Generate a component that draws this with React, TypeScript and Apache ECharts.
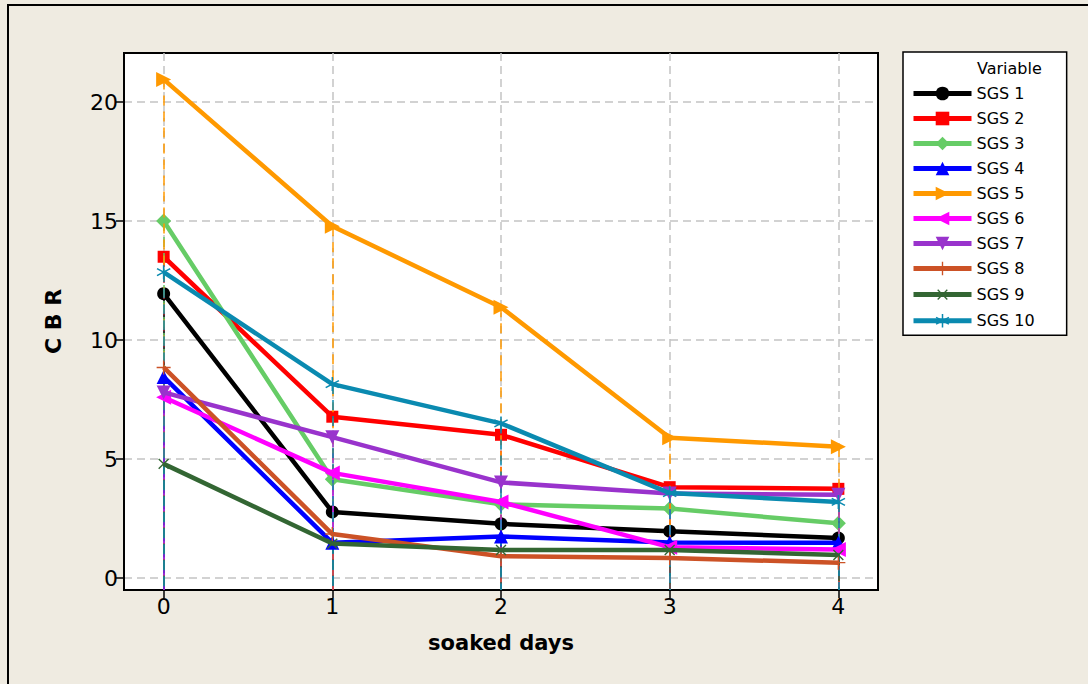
import React, { useEffect, useRef } from "react";
import * as echarts from "echarts";

const days = [0, 1, 2, 3, 4];
const xTicks = [0, 1, 2, 3, 4];
const yTicks = [0, 5, 10, 15, 20];
const seriesNames = ["SGS 1", "SGS 2", "SGS 3", "SGS 4", "SGS 5", "SGS 6", "SGS 7", "SGS 8", "SGS 9", "SGS 10"];
const sgs1 = [11.95, 2.78, 2.28, 1.97, 1.68];
const sgs2 = [13.5, 6.78, 6.02, 3.82, 3.75];
const sgs3 = [15.0, 4.15, 3.1, 2.92, 2.3];
const sgs4 = [8.45, 1.48, 1.75, 1.5, 1.48];
const sgs5 = [20.95, 14.78, 11.38, 5.9, 5.52];
const sgs6 = [7.6, 4.42, 3.2, 1.3, 1.2];
const sgs7 = [7.8, 5.92, 4.02, 3.55, 3.5];
const sgs8 = [8.85, 1.85, 0.92, 0.84, 0.65];
const sgs9 = [4.8, 1.45, 1.18, 1.18, 0.97];
const sgs10 = [12.85, 8.15, 6.5, 3.57, 3.2];
const allValues = [sgs1, sgs2, sgs3, sgs4, sgs5, sgs6, sgs7, sgs8, sgs9, sgs10];

const colors = ["#000000", "#FF0000", "#66CC66", "#0000FF", "#FF9900", "#FF00FF", "#9933CC", "#CC5226", "#336633", "#0A8AB0"];

const PLUS = "path://M-1,-10H1V-1H10V1H1V10H-1V1H-10V-1H-1Z";
const STAR = "path://M-1,-10H1V10H-1Z M-9.16,-4.13L-8.16,-5.87L9.16,4.13L8.16,5.87Z M-8.16,5.87L-9.16,4.13L8.16,-5.87L9.16,-4.13Z";
const symbols = ["circle", "rect", "diamond", "triangle", "triangle", "triangle", "triangle", PLUS, PLUS, STAR];
const rotations = [0, 0, 0, 0, -90, 90, 180, 0, 45, 0];
const sizes = [13, 12, 15, 14, 15, 15, 14, 14, 14, 14];

const Y_MIN = -0.5;
const Y_MAX = 22.06;
const X_MIN = -0.235;
const X_MAX = 4.235;
const FONT = "'DejaVu Sans', Verdana, sans-serif";

export default function App() {
  const ref = useRef<HTMLDivElement>(null);
  useEffect(() => {
    if (!ref.current) return;
    const chart = echarts.init(ref.current, null, { renderer: "svg" });
    const series = allValues.map((vals, si) => ({
      name: seriesNames[si],
      type: "line",
      data: vals.map((v, i) => [days[i], v]),
      symbol: symbols[si],
      symbolSize: sizes[si],
      symbolRotate: rotations[si],
      showAllSymbol: true,
      clip: false,
      lineStyle: { color: colors[si], width: 4.5 },
      itemStyle: { color: colors[si] },
      emphasis: { disabled: true },
      markLine: {
        silent: true,
        symbol: ["none", "none"],
        animation: false,
        label: { show: false },
        emphasis: { disabled: true },
        lineStyle: { color: colors[si], type: [10, 6], width: 1.5 },
        data: vals.map((v, i) => [{ coord: [days[i], v] }, { coord: [days[i], Y_MIN] }]),
      },
      z: 2 + si,
    }));
    chart.setOption({
      animation: false,
      backgroundColor: "#EFEBE1",
      textStyle: { fontFamily: FONT },
      grid: {
        left: 124,
        top: 53,
        width: 754,
        height: 537,
        show: true,
        backgroundColor: "#ffffff",
        borderColor: "#000000",
        borderWidth: 2,
      },
      xAxis: {
        type: "value",
        min: X_MIN,
        max: X_MAX,
        name: "soaked days",
        nameLocation: "middle",
        nameGap: 42,
        nameTextStyle: { fontSize: 21, fontWeight: "bold", color: "#000", fontFamily: FONT },
        axisLine: { show: true, onZero: false, lineStyle: { color: "#000", width: 2 } },
        axisTick: { show: true, length: 8, customValues: xTicks, lineStyle: { color: "#000", width: 1.5 } },
        axisLabel: {
          customValues: xTicks,
          fontSize: 22,
          color: "#000",
          margin: 5,
          fontFamily: FONT,
          formatter: (v: number) => (Number.isInteger(v) ? String(v) : ""),
        },
        splitLine: { show: true, lineStyle: { color: "#c4c4c4", type: [8, 5], width: 1.5 } },
      },
      yAxis: {
        type: "value",
        min: Y_MIN,
        max: Y_MAX,
        name: "C B R",
        nameLocation: "middle",
        nameGap: 60,
        nameRotate: 90,
        nameTextStyle: { fontSize: 22, fontWeight: "bold", color: "#000", fontFamily: FONT },
        axisLine: { show: true, onZero: false, lineStyle: { color: "#000", width: 2 } },
        axisTick: { show: true, length: 8, customValues: yTicks, lineStyle: { color: "#000", width: 1.5 } },
        axisLabel: {
          customValues: yTicks,
          fontSize: 22,
          color: "#000",
          margin: 6,
          fontFamily: FONT,
          formatter: (v: number) => (Number.isInteger(v) && v % 5 === 0 ? String(v) : ""),
        },
        splitLine: { show: true, lineStyle: { color: "#c4c4c4", type: [8, 5], width: 1.5 } },
      },
      legend: {
        orient: "vertical",
        left: 903,
        top: 52,
        data: seriesNames,
        itemWidth: 58,
        itemHeight: 17,
        itemGap: 8,
        padding: [33, 32, 6, 8],
        backgroundColor: "#ffffff",
        borderColor: "#000000",
        borderWidth: 1.5,
        lineStyle: { width: 5 },
        textStyle: { fontSize: 16, color: "#000", fontFamily: FONT, lineHeight: 17, padding: [0, 0, 0, 0] },
        selectedMode: false,
      },
      graphic: [
        {
          type: "rect",
          shape: { x: 8, y: 5, width: 1200, height: 800 },
          style: { fill: "none", stroke: "#000", lineWidth: 2 },
          silent: true,
          z: 100,
        },
        {
          type: "text",
          x: 977,
          y: 68,
          style: { text: "Variable", fill: "#000", font: `16px ${FONT}`, verticalAlign: "middle" },
          z: 100,
        },
      ],
      series,
    });
    return () => chart.dispose();
  }, []);
  return <div ref={ref} style={{ position: "absolute", left: 0, top: 0, width: 1088, height: 684 }} />;
}
